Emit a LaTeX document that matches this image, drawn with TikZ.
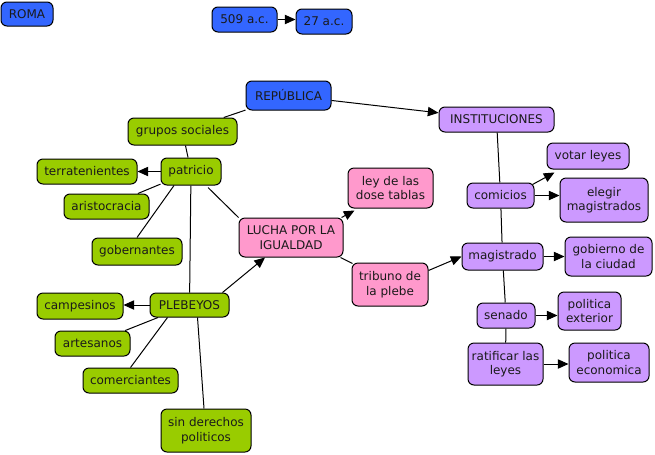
\documentclass[tikz,border=0pt]{standalone}
\usepackage{fontspec}
\setmainfont{DejaVu Sans}
\usetikzlibrary{arrows.meta,calc}
\definecolor{cblue}{HTML}{3366FF}
\definecolor{cgreen}{HTML}{99CC00}
\definecolor{cpink}{HTML}{FF99CC}
\definecolor{cpurple}{HTML}{CC99FF}
\definecolor{ctext}{HTML}{1A1A1A}
\begin{document}
\begin{tikzpicture}[x=0.75pt,y=-0.75pt,
  box/.style={draw=black,line width=0.75pt,rounded corners=4.5pt,inner sep=0pt,align=center,
    text=ctext,font=\fontsize{9}{10.8}\selectfont},
  sz/.style 2 args={minimum width=#1*0.75pt,minimum height=#2*0.75pt},
  bluebox/.style={box,fill=cblue},
  greenbox/.style={box,fill=cgreen},
  pinkbox/.style={box,fill=cpink},
  purplebox/.style={box,fill=cpurple},
  link/.style={draw=black,line width=0.75pt},
  arr/.style={link,-{Triangle[length=8pt,width=7pt]}}]
\useasboundingbox (0,0) rectangle (655,454);
% blue
\node[bluebox,sz={52}{24}] (roma) at (27,14) {ROMA};
\node[bluebox,sz={65}{25}] (d509) at (244.5,19.5) {509 a.c.};
\node[bluebox,sz={56}{25}] (d27) at (324,21.5) {27 a.c.};
\node[bluebox,sz={85}{29}] (rep) at (288.5,95.5) {REPÚBLICA};
% green
\node[greenbox,sz={109}{27}] (grupos) at (182.5,131.5) {grupos sociales};
\node[greenbox,sz={60}{27}] (patricio) at (191,171.5) {patricio};
\node[greenbox,sz={100}{25}] (terrat) at (87,171.5) {terratenientes};
\node[greenbox,sz={85}{25}] (aristo) at (106.5,206.5) {aristocracia};
\node[greenbox,sz={90}{27}] (gobern) at (137,251.5) {gobernantes};
\node[greenbox,sz={79}{24}] (plebeyos) at (189.5,305) {PLEBEYOS};
\node[greenbox,sz={86}{26}] (campes) at (80,306) {campesinos};
\node[greenbox,sz={75}{25}] (artes) at (92.5,343.5) {artesanos};
\node[greenbox,sz={95}{25}] (comerc) at (130.5,380.5) {comerciantes};
\node[greenbox,sz={90}{43}] (sinder) at (206,430.5) {sin derechos\\politicos};
% pink
\node[pinkbox,sz={104}{39}] (lucha) at (291,237.5) {LUCHA POR LA\\IGUALDAD};
\node[pinkbox,sz={85}{40}] (leydose) at (390.5,188) {ley de las\\dose tablas};
\node[pinkbox,sz={76}{43}] (tribuno) at (390,284.5) {tribuno de\\la plebe};
% purple
\node[purplebox,sz={115}{25}] (instit) at (496.5,119.5) {INSTITUCIONES};
\node[purplebox,sz={82}{26}] (votar) at (588,156) {votar leyes};
\node[purplebox,sz={88}{44}] (elegir) at (604,200) {elegir\\magistrados};
\node[purplebox,sz={67}{25}] (comicios) at (500.5,195.5) {comicios};
\node[purplebox,sz={81}{27}] (magis) at (502.5,256.5) {magistrado};
\node[purplebox,sz={87}{39}] (gobierno) at (608.5,256.5) {gobierno de\\la ciudad};
\node[purplebox,sz={58}{25}] (senado) at (506,315.5) {senado};
\node[purplebox,sz={63}{38}] (polext) at (589.5,311) {politica\\exterior};
\node[purplebox,sz={75}{42}] (ratif) at (505.5,364) {ratificar las\\leyes};
\node[purplebox,sz={80}{39}] (poleco) at (609,362.5) {politica\\economica};
% connectors
\draw[arr] (d509.east) -- (d509.east -| d27.west);
\draw[link] (rep) -- (grupos);
\draw[arr] (rep) -- (instit);
\draw[link] (grupos) -- (patricio);
\draw[arr] (patricio.west) -- (patricio.west -| terrat.east);
\draw[link] (patricio) -- (aristo);
\draw[link] ($(patricio.south)+(-17,0)$) -- (gobern.north);
\draw[link] (patricio) -- (plebeyos);
\draw[link] ($(patricio.south)+(17,2)$) -- (lucha.north west);
\draw[arr] ($(plebeyos.north)+(33,0)$) -- ($(lucha.south)+(-26,0)$);
\draw[arr] (plebeyos.west) -- (plebeyos.west -| campes.east);
\draw[link] (plebeyos) -- (artes);
\draw[link] ($(plebeyos.south)+(-22,0)$) -- (comerc.north);
\draw[link] ($(plebeyos.south)+(8,0)$) -- ($(sinder.north)+(-2,0)$);
\draw[arr] ($(lucha.north east)+(-2,0)$) -- ($(leydose.south west)+(7,2)$);
\draw[link] ($(lucha.south east)+(-3,0)$) -- ($(tribuno.north west)+(1,1)$);
\draw[arr] ($(tribuno.east)+(0,-14)$) -- (magis.west);
\draw[link] (instit) -- (comicios);
\draw[arr] ($(comicios.north east)+(-2,2)$) -- ($(votar.south west)+(8,3)$);
\draw[arr] (comicios.east) -- (comicios.east -| elegir.west);
\draw[link] (comicios) -- (magis);
\draw[arr] (magis.east) -- (magis.east -| gobierno.west);
\draw[link] (magis) -- (senado);
\draw[arr] (senado.east) -- (senado.east -| polext.west);
\draw[link] (senado) -- (ratif);
\draw[arr] (ratif.east) -- (ratif.east -| poleco.west);
\end{tikzpicture}
\end{document}
